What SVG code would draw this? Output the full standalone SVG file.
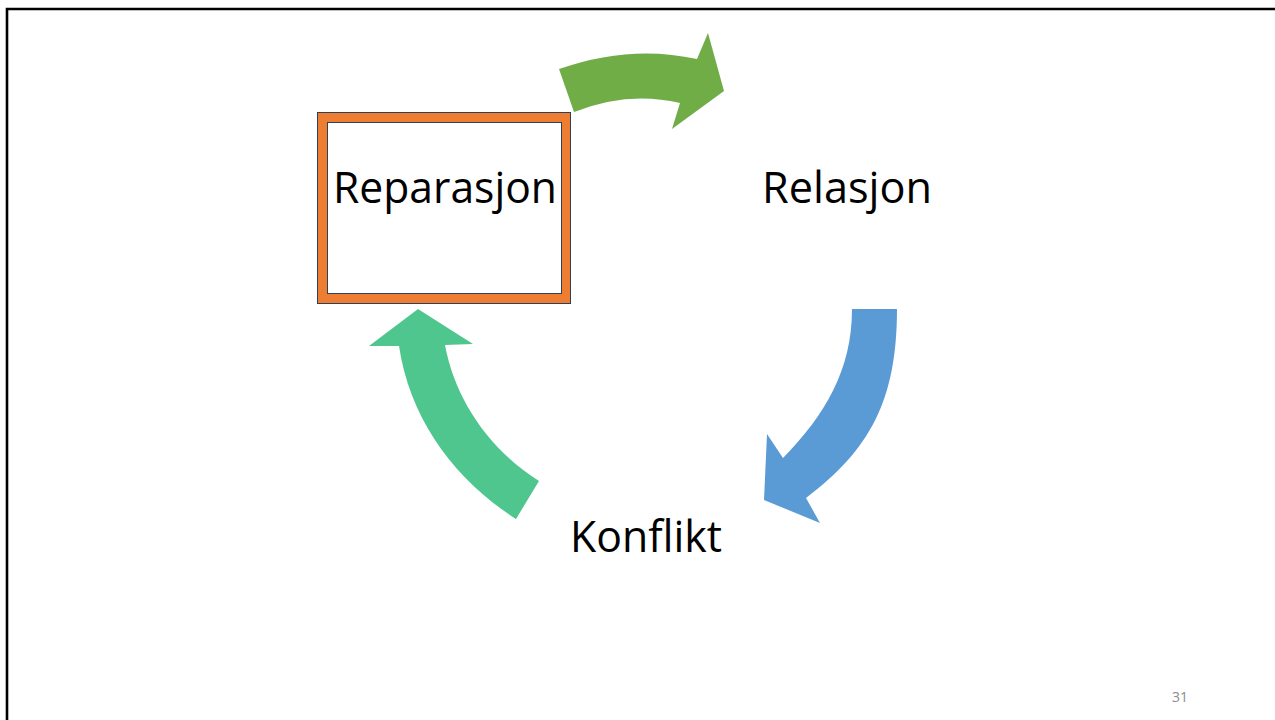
<svg xmlns="http://www.w3.org/2000/svg" width="1275" height="720" viewBox="0 0 1275 720">
<style>
.lbl{font-family:"Open Sans","Liberation Sans",sans-serif;font-size:43px;fill:#000}
.num{font-family:"Open Sans","Liberation Sans",sans-serif;font-size:14px;fill:#8c8c8c}
</style>
<rect x="0" y="0" width="1275" height="720" fill="#fff"/>
<path d="M7,720 L7,9 L1275,9" fill="none" stroke="#000" stroke-width="2.6"/>
<g id="connectors">
<path id="arrow-green" d="M559,69 Q630,44 697,59 L708,33 L724,91 L672,129 L680,103 Q628,90.5 574,112 Z" fill="#70AD47"/>
<path id="arrow-blue" d="M852,309 L897,309 C897,400 870,450 806,498 L820,523 L764,500 L767,434 L783,458 C825,415 852,370 852,309 Z" fill="#5B9BD5"/>
<path id="arrow-teal" d="M418,309 L473,344 L445,345 C455,400 490,450 539,481 L516,519 C455,480 410,420 399,346 L369,346 Z" fill="#50C68F"/>
</g>
<g id="node-reparasjon">
<rect x="317.5" y="112.5" width="253" height="191" fill="#ED7D31" stroke="#2F3F5F" stroke-width="1"/>
<rect x="327.5" y="122.5" width="234" height="171" fill="#fff" stroke="#2F3F5F" stroke-width="1"/>
<text class="lbl" x="333" y="203" textLength="224" lengthAdjust="spacingAndGlyphs">Reparasjon</text>
</g>
<g id="node-relasjon">
<text class="lbl" x="762" y="203" textLength="170" lengthAdjust="spacingAndGlyphs">Relasjon</text>
</g>
<g id="node-konflikt">
<text class="lbl" x="570" y="552" textLength="152" lengthAdjust="spacingAndGlyphs">Konflikt</text>
</g>
<text class="num" x="1172" y="702">31</text>
</svg>
